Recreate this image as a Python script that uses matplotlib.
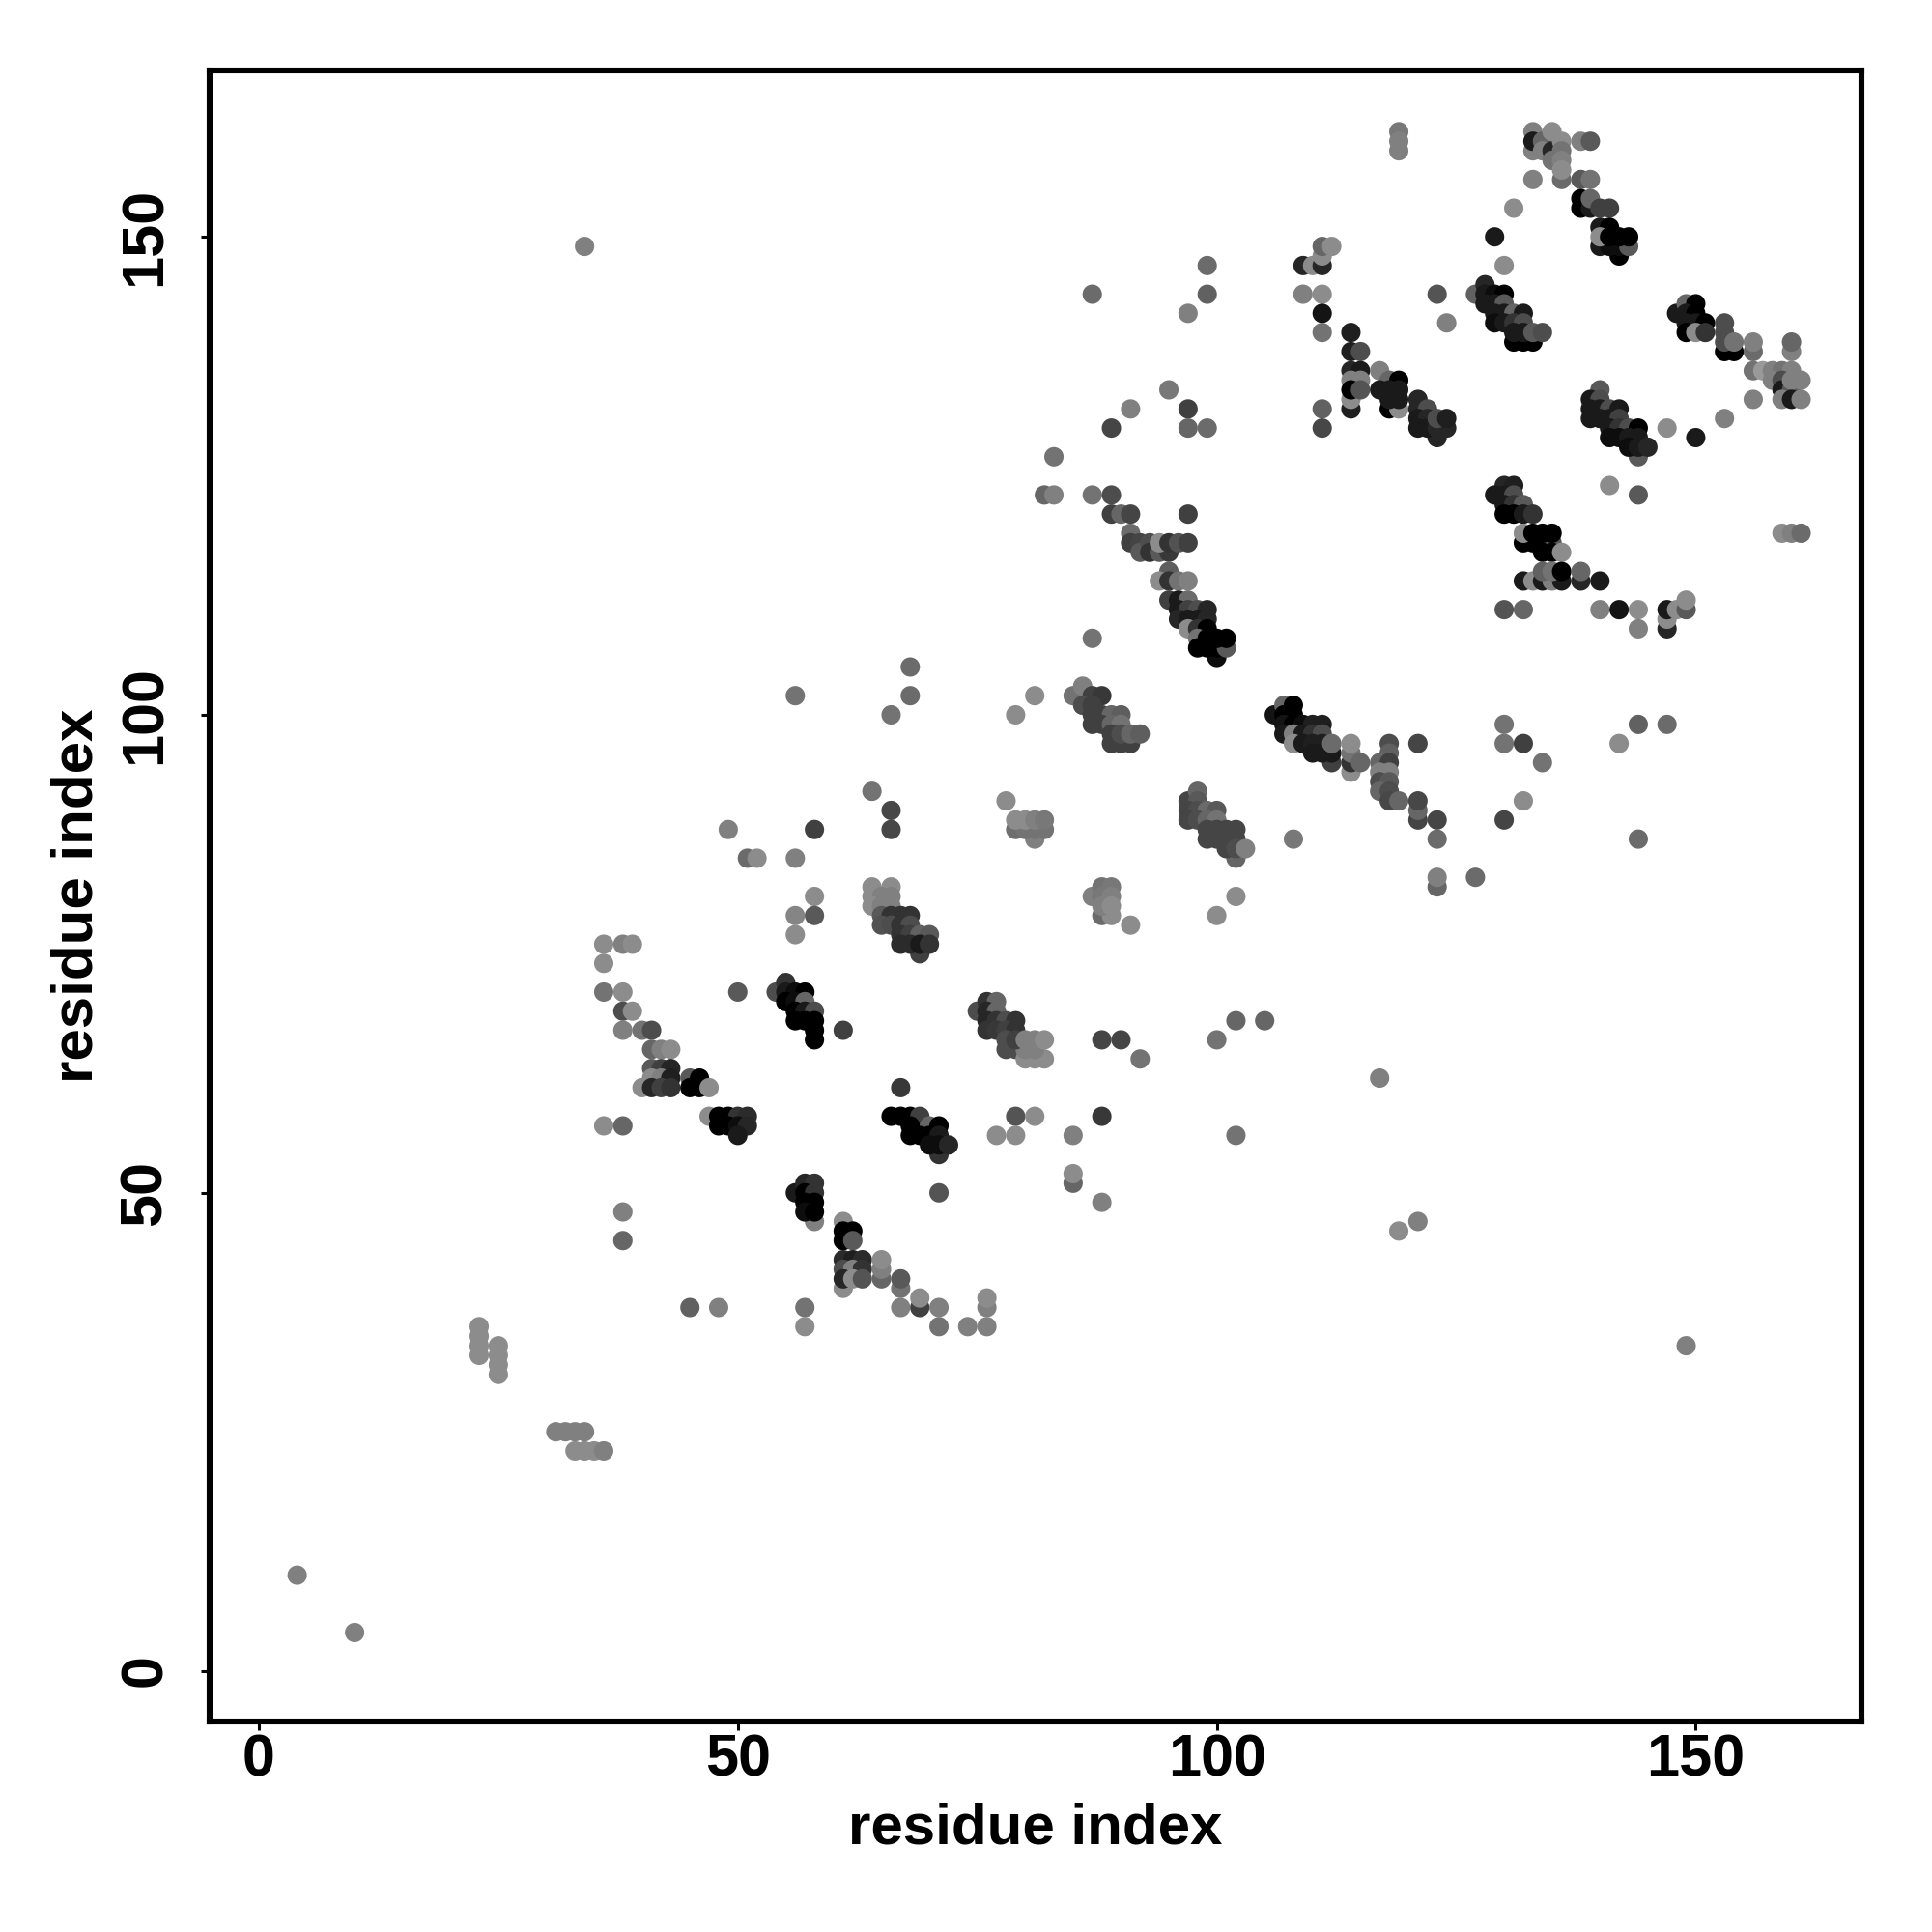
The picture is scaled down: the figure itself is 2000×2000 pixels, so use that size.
import matplotlib
matplotlib.use('Agg')
import matplotlib.pyplot as plt

# (residue i, residue j, grey level), cluster by cluster
scattered_low = [(4, 10, .5), (10, 4, .5), (34, 149, .5),
                 (23, 36, .55), (23, 35, .55), (23, 34, .55), (23, 33, .55),
                 (25, 34, .55), (25, 33, .55), (25, 32, .55), (25, 31, .55),
                 (31, 25, .5), (32, 25, .5), (33, 25, .5), (34, 25, .5),
                 (33, 23, .55), (34, 23, .55), (35, 23, .55), (36, 23, .5),
                 (117, 62, .5), (119, 46, .55), (121, 47, .5), (149, 34, .5)]

cluster_40 = [(38, 69, .3), (39, 69, .55), (38, 67, .5), (40, 67, .45), (41, 67, .3),
              (41, 65, .4), (42, 65, .5), (43, 65, .55),
              (41, 63, .35), (42, 63, .25), (43, 63, .15),
              (41, 62, .55), (42, 62, .5), (43, 62, .12),
              (40, 61, .55), (41, 61, .15), (42, 61, .25), (43, 61, .2),
              (45, 62, .35), (46, 62, 0), (45, 61, 0), (46, 61, 0), (47, 61, .55),
              (47, 58, .55), (48, 58, 0), (49, 58, 0), (50, 58, .2), (51, 58, .17),
              (48, 57, 0), (49, 57, 0), (50, 57, .05), (51, 57, .15), (50, 56, .1),
              (36, 57, .55), (38, 57, .4), (36, 76, .55), (38, 76, .5), (39, 76, .55),
              (36, 74, .55), (36, 71, .45), (38, 71, .55), (38, 48, .5), (38, 45, .4)]

cluster_55 = [(54, 71, .3), (55, 72, .2), (55, 71, .1), (56, 71, .05), (57, 71, 0),
              (55, 70, 0), (56, 70, .05), (57, 70, .4),
              (56, 69, 0), (57, 69, .1), (58, 69, .3),
              (56, 68, 0), (57, 68, 0), (58, 68, 0), (58, 67, 0), (58, 66, 0),
              (50, 71, .35), (61, 67, .25),
              (58, 47, .5), (56, 50, .1), (57, 51, .15), (58, 51, .2), (57, 50, 0), (58, 50, .2),
              (57, 49, 0), (58, 49, 0), (57, 48, .05), (58, 48, 0)]

cluster_62 = [(61, 47, .55), (61, 46, 0), (62, 46, 0), (61, 45, 0), (62, 45, .35),
              (61, 40, .55), (61, 43, .17), (62, 43, .12), (63, 43, .17),
              (61, 42, .3), (62, 42, .5), (63, 42, .2),
              (61, 41, .15), (62, 41, .55), (63, 41, .33),
              (65, 41, .4), (65, 42, .5), (65, 43, .55), (67, 40, .45), (67, 41, .35),
              (45, 38, .38), (48, 38, .5), (57, 38, .45), (67, 38, .5), (69, 38, .25), (69, 39, .55),
              (71, 38, .5), (76, 38, .5), (76, 39, .55),
              (57, 36, .55), (71, 36, .45), (74, 36, .5), (76, 36, .5),
              (71, 50, .33), (67, 61, .22)]

cluster_68 = [(66, 58, 0), (67, 58, 0), (68, 58, 0), (69, 58, .25),
              (68, 57, 0), (70, 57, .4), (71, 57, 0),
              (68, 56, 0), (69, 56, 0), (70, 56, 0), (71, 56, .1),
              (71, 54, .2), (70, 55, .05), (71, 55, .05), (72, 55, .15)]

cluster_77 = [(75, 69, .3), (76, 70, .2), (77, 70, .4), (76, 69, .15), (77, 69, .4),
              (76, 68, .15), (77, 68, .2), (78, 68, .3), (79, 68, .2),
              (76, 67, .2), (77, 67, .22), (78, 67, .25), (79, 67, .2),
              (78, 65, .3), (79, 65, .3), (80, 64, .55), (81, 64, .55), (82, 64, .55),
              (80, 65, .5), (81, 65, .5),
              (78, 66, .3), (79, 66, .25), (80, 66, .5), (81, 66, .5), (82, 66, .55),
              (88, 66, .27), (90, 66, .27), (92, 64, .45), (100, 66, .45), (102, 68, .4), (105, 68, .4),
              (79, 58, .33), (81, 58, .55), (77, 56, .55), (79, 56, .55), (85, 56, .5), (88, 58, .22),
              (102, 56, .45), (85, 51, .4), (85, 52, .55), (88, 49, .5)]

cluster_66 = [(56, 102, .45), (68, 105, .42), (68, 102, .42), (66, 100, .45), (81, 102, .55), (79, 100, .55),
              (64, 92, .45), (66, 90, .28), (66, 88, .28), (58, 88, .25), (49, 88, .5),
              (51, 85, .42), (52, 85, .55), (56, 85, .5), (58, 81, .55), (56, 79, .52), (58, 79, .35), (56, 77, .55),
              (64, 82, .55), (66, 82, .55), (64, 81, .55), (65, 81, .5), (66, 81, .5),
              (64, 80, .55), (65, 80, .5), (66, 80, .5),
              (65, 79, .35), (66, 79, .2), (67, 79, .2), (68, 79, .2),
              (65, 78, .32), (66, 78, .3), (67, 78, .2), (68, 78, .3),
              (69, 75, .25), (67, 77, .2), (68, 77, .25), (69, 77, .38), (70, 77, .35),
              (67, 76, .17), (68, 76, .17), (69, 76, .1), (70, 76, .2)]

cluster_80 = [(78, 91, .55), (81, 87, .5), (79, 88, .43), (80, 88, .45), (81, 88, .45), (82, 88, .45),
              (79, 89, .55), (80, 89, .55), (81, 89, .5), (82, 89, .47),
              (87, 81, .5), (88, 79, .42), (89, 79, .55), (88, 82, .45), (89, 82, .47),
              (88, 81, .47), (89, 81, .5), (88, 80, .5), (89, 80, .55), (91, 78, .55),
              (102, 81, .55), (100, 79, .55), (108, 87, .47), (87, 108, .45)]

cluster_88 = [(85, 102, .45), (86, 103, .5), (87, 102, .25), (88, 102, .22),
              (86, 101, .3), (87, 101, .25),
              (87, 100, .25), (88, 100, .25), (89, 100, .4), (90, 100, .37),
              (87, 99, .25), (88, 99, .25), (89, 99, .4), (90, 99, .45),
              (89, 97, .25), (90, 97, .25), (91, 97, .25),
              (89, 98, .25), (90, 98, .3), (91, 98, .4), (92, 98, .37)]

cluster_98 = [(102, 85, .4), (97, 91, .27), (98, 92, .4), (98, 91, .35),
              (97, 90, .27), (98, 90, .3), (99, 90, .42), (100, 90, .35),
              (97, 89, .27), (98, 89, .3), (99, 89, .4), (100, 89, .45),
              (99, 88, .27), (100, 88, .27), (101, 88, .27), (102, 88, .27),
              (99, 87, .27), (100, 87, .27), (101, 87, .27), (102, 87, .27),
              (101, 86, .27), (102, 86, .3), (103, 86, .5)]

cluster_108 = [(106, 100, .08), (107, 101, .4), (108, 101, 0), (107, 100, 0), (108, 100, 0),
               (107, 99, .08), (108, 99, 0), (109, 99, .05), (110, 99, .12), (111, 99, .12),
               (107, 98, .1), (108, 98, .5), (109, 98, .1), (110, 98, .2), (111, 98, .3),
               (108, 97, .55), (109, 97, .1), (110, 97, .12), (111, 97, .12),
               (112, 95, .25), (110, 96, .1), (111, 96, .1), (112, 96, .1), (112, 97, .42),
               (114, 94, .55), (114, 95, .2), (114, 96, .45), (114, 97, .55), (115, 95, .4),
               (118, 97, .3), (118, 96, .38), (117, 95, .4), (118, 95, .25), (117, 94, .5), (118, 94, .5),
               (117, 93, .3), (118, 93, .35), (117, 92, .4), (118, 92, .3), (118, 91, .28), (119, 91, .4),
               (121, 97, .27), (121, 89, .27), (121, 90, .4), (121, 91, .28), (123, 89, .27), (123, 87, .42),
               (123, 82, .4), (123, 83, .5), (127, 83, .42),
               (130, 99, .45), (130, 97, .45), (132, 97, .25), (134, 95, .45), (144, 99, .38), (147, 99, .42),
               (142, 97, .55), (132, 91, .55), (130, 89, .27), (144, 87, .42)]

cluster_95 = [(87, 144, .42), (99, 147, .42), (99, 144, .38), (97, 142, .5), (95, 134, .47),
              (91, 132, .5), (97, 132, .25), (89, 130, .27), (97, 130, .4), (99, 130, .42),
              (83, 127, .45), (82, 123, .4), (83, 123, .5), (87, 123, .45), (89, 123, .3),
              (89, 121, .25), (90, 121, .4), (91, 121, .27), (97, 121, .25),
              (91, 119, .42), (91, 118, .25), (92, 118, .27), (92, 117, .35), (93, 118, .3), (93, 117, .2),
              (94, 117, .35), (95, 117, .22), (94, 118, .55), (95, 118, .2), (96, 118, .32), (97, 118, .25),
              (95, 115, .37), (94, 114, .55), (95, 114, .2), (96, 114, .45), (97, 114, .5)]

cluster_99 = [(95, 112, .25), (96, 112, .1), (97, 112, .42),
              (96, 111, .1), (97, 111, .25), (98, 111, .3), (99, 111, .15),
              (96, 110, .15), (97, 110, .1), (98, 110, .1), (99, 110, .15),
              (97, 109, .55), (98, 109, .2), (99, 109, 0), (98, 108, .45),
              (99, 108, 0), (100, 106, .05), (98, 107, 0), (99, 107, 0), (100, 107, 0),
              (101, 107, .35), (100, 108, 0), (101, 108, 0)]

cluster_114 = [(109, 147, .15), (110, 147, .55), (111, 147, .15), (111, 148, .55), (111, 149, .4), (112, 149, .55),
               (109, 144, .5), (111, 144, .55), (111, 142, .08), (111, 140, .45), (111, 132, .38), (111, 130, .28),
               (123, 144, .33), (124, 141, .5),
               (114, 140, .12), (114, 138, .12), (115, 138, .3), (114, 136, .15), (115, 136, .1),
               (114, 135, .5), (115, 135, .5), (114, 132, .12), (114, 133, .55), (114, 134, 0), (115, 134, .33),
               (117, 136, .5), (118, 135, .4), (119, 135, 0),
               (117, 134, .1), (118, 134, .1), (119, 134, .1),
               (118, 132, 0), (119, 132, .55), (118, 133, .1), (119, 133, .1),
               (123, 129, .15), (121, 133, .15), (121, 132, .15), (122, 132, .3),
               (121, 131, .1), (122, 131, .15), (121, 130, .1), (122, 130, .1), (123, 130, .15), (124, 130, .15),
               (123, 131, .3), (124, 131, .12)]

cluster_top = [(119, 161, .47), (119, 160, .5), (119, 159, .5),
               (133, 161, .5), (133, 159, .5), (133, 160, .1), (134, 160, .4), (134, 159, .5),
               (135, 159, .15), (135, 161, .55), (135, 158, .45), (136, 160, .55), (136, 159, .45),
               (136, 156, .42), (136, 158, .5), (136, 157, .55),
               (138, 160, .5), (139, 160, .35), (133, 156, .5), (138, 156, .35), (139, 156, .45),
               (131, 153, .55), (138, 153, 0), (138, 154, 0), (139, 153, .1), (139, 154, .4),
               (140, 153, .25), (141, 153, .25),
               (129, 150, .1), (130, 147, .55),
               (142, 148, 0), (140, 149, .1), (141, 149, .05), (142, 149, .05), (143, 149, .35),
               (140, 151, .1), (141, 151, 0), (140, 150, .55), (141, 150, 0), (142, 150, 0), (143, 150, 0)]

cluster_130 = [(127, 144, .38), (128, 145, .15), (128, 144, .1), (129, 144, .05), (130, 144, 0),
               (128, 143, .1), (129, 143, .1), (130, 143, .35),
               (129, 142, .1), (130, 142, .1), (131, 142, .4), (132, 142, .1),
               (129, 141, .05), (130, 141, .1), (131, 141, .2), (132, 141, .3),
               (131, 139, 0), (132, 139, 0), (133, 139, 0),
               (131, 140, .1), (132, 140, .1), (133, 140, .35), (134, 140, .3)]

cluster_150 = [(147, 130, .55), (150, 129, .1), (153, 131, .5), (148, 142, .1), (149, 143, .4), (150, 143, 0),
               (149, 142, .1), (150, 142, 0), (149, 141, .1), (150, 141, .1), (151, 141, 0),
               (149, 140, 0), (150, 140, .55), (151, 140, .2),
               (153, 138, 0), (154, 138, 0), (153, 141, .3), (153, 140, .3), (153, 139, .3), (154, 139, .45),
               (156, 138, .42), (156, 139, .5), (160, 138, .5), (160, 139, .4),
               (156, 136, .45), (157, 136, .6), (158, 136, .5), (159, 136, .45), (160, 136, .5),
               (158, 135, .5), (159, 135, .3), (159, 134, .1), (160, 134, .35), (160, 135, .5), (161, 135, .5),
               (156, 133, .5), (159, 133, .5), (160, 133, .1), (161, 133, .5)]

cluster_142 = [(144, 127, .35), (140, 134, .35), (139, 133, .1), (140, 133, .3),
               (139, 132, .1), (140, 132, .1), (141, 132, .3), (142, 132, .1),
               (139, 131, .1), (140, 131, .1), (141, 131, .1), (142, 131, .25),
               (141, 130, .1), (142, 130, .2), (143, 130, .3), (144, 130, 0),
               (141, 129, .05), (142, 129, .05), (143, 129, .1), (144, 129, .1),
               (143, 128, .05), (144, 128, .1), (145, 128, .15),
               (141, 124, .55), (144, 123, .35), (159, 119, .55), (160, 119, .5), (161, 119, .42)]

cluster_133 = [(130, 124, .15), (131, 124, .12), (129, 123, .1), (130, 123, .1), (131, 123, .3),
               (130, 122, .1), (131, 122, .2), (132, 122, .35),
               (130, 121, 0), (131, 121, 0), (132, 121, .1), (133, 121, .2),
               (132, 118, 0), (133, 118, 0), (134, 118, 0), (135, 118, .35),
               (132, 119, .55), (133, 119, 0), (134, 119, 0), (135, 119, 0),
               (134, 117, 0), (135, 117, 0), (136, 117, .55),
               (132, 114, .1), (133, 114, .55), (134, 114, .1), (135, 114, .5), (136, 114, .1),
               (134, 115, .38), (135, 115, .45), (136, 115, 0), (138, 114, .15), (138, 115, .4), (140, 114, .1),
               (130, 111, .33), (132, 111, .4), (140, 111, .5), (142, 111, .08),
               (144, 111, .55), (144, 109, .5), (147, 109, .15), (147, 110, .55),
               (147, 111, .1), (148, 111, .55), (149, 111, .35), (149, 112, .55)]

clusters = [scattered_low, cluster_40, cluster_55, cluster_62, cluster_68, cluster_77, cluster_66,
            cluster_80, cluster_88, cluster_98, cluster_108, cluster_95, cluster_99, cluster_114,
            cluster_top, cluster_130, cluster_150, cluster_142, cluster_133]

tick_values = [0, 50, 100, 150]
axis_label = 'residue index'

plt.rcParams['font.family'] = ['Liberation Sans', 'DejaVu Sans']
plt.rcParams['font.weight'] = 'bold'

fig = plt.figure(figsize=(10, 10), dpi=200)
ax = fig.add_axes([217 / 2000, 1 - 1782 / 2000, 1710 / 2000, 1709 / 2000])

for cluster in clusters:
    xs = [p[0] for p in cluster]
    ys = [p[1] for p in cluster]
    greys = [str(p[2]) for p in cluster]
    ax.scatter(xs, ys, c=greys, s=52, linewidths=0, zorder=3)

ax.set_xlim(-5.14, 167.3)
ax.set_ylim(-5.3, 167.4)
ax.set_xticks(tick_values)
ax.set_yticks(tick_values)
ax.tick_params(axis='both', length=3.4, width=1.1, labelsize=22)
ax.tick_params(axis='x', pad=1)
ax.tick_params(axis='y', pad=10)
for lab in ax.get_yticklabels():
    lab.set_rotation(90)
    lab.set_va('center')
    lab.set_y(lab.get_position()[1])
for spine in ax.spines.values():
    spine.set_linewidth(2.2)
ax.set_xlabel(axis_label, fontsize=21.6, fontweight='bold', labelpad=5)
ax.set_ylabel(axis_label, fontsize=21.6, fontweight='bold', labelpad=5.5)

fig.savefig('out.png', dpi=200)
